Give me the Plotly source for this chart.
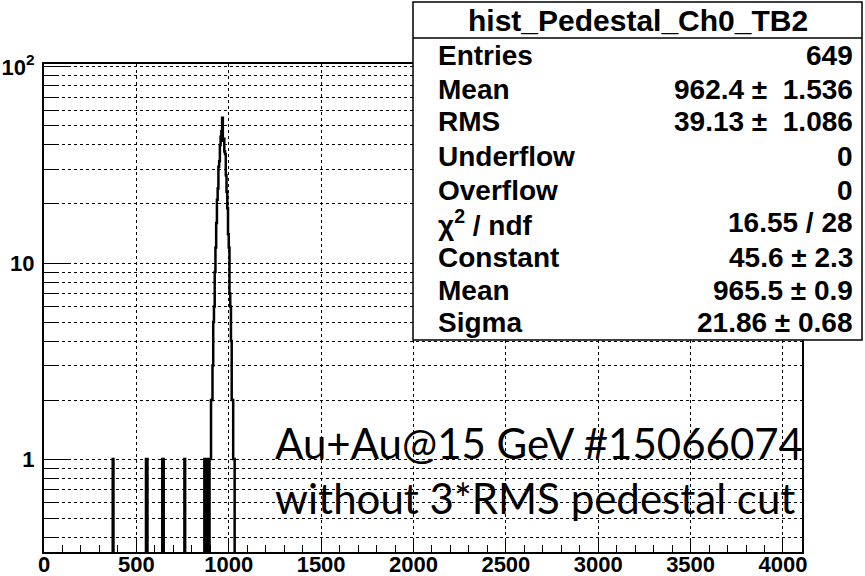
import numpy as np
import plotly.graph_objects as go

# ---------------- data ----------------
BIN_WIDTH = 4
N_BINS = 1024
hist_title = "hist_Pedestal_Ch0_TB2"

# lower edges of the non-empty bins and their contents
bin_lows = [372, 552, 556, 640, 644, 760,
            868, 876, 884, 888, 896,
            900, 904, 908, 912, 916, 920, 924, 928, 932, 936, 940, 944, 948, 952, 956, 960,
            964,
            968, 972, 976, 980, 984, 988, 992, 996, 1000, 1004, 1008, 1012, 1016, 1020, 1024, 1028]
bin_counts = [1, 1, 1, 1, 1, 1,
              1, 1, 1, 1, 1,
              1, 2, 2, 3, 5, 6, 9, 12, 16, 21, 24, 31, 33, 40, 44, 47,
              55,
              42, 43, 37, 36, 28, 23, 19, 14, 12, 7, 6, 4, 2, 2, 1, 1]

stat_labels = ["Entries", "Mean", "RMS", "Underflow", "Overflow",
               "χ<sup>2</sup> / ndf", "Constant", "Mean", "Sigma"]
stat_values = ["649", "962.4 ±  1.536", "39.13 ±  1.086", "0", "0",
               "16.55 / 28", "45.6 ± 2.3", "965.5 ± 0.9", "21.86 ± 0.68"]

note_lines = ["Au+Au@15 GeV #15066074", "without 3*RMS pedestal cut"]

x_ticks = [0, 500, 1000, 1500, 2000, 2500, 3000, 3500, 4000]
y_ticks = [1, 10, 100]
y_ticktext = ["1", "10", "10<sup>2</sup>"]
y_minor = [0.4, 0.5, 0.6, 0.7, 0.8, 0.9, 2, 3, 4, 5, 6, 7, 8, 9,
           20, 30, 40, 50, 60, 70, 80, 90]

# ---------------- histogram arrays ----------------
counts = np.zeros(N_BINS)
for lo, c in zip(bin_lows, bin_counts):
    counts[lo // BIN_WIDTH] = c
edges = np.arange(N_BINS + 1) * BIN_WIDTH
disp = np.where(counts > 0, counts, 1e-3)   # empty bins drop below the axis
xs = list(edges[:-1]) + [edges[-1]]
ys = list(disp) + [disp[-1]]

# ---------------- layout geometry ----------------
W, H = 865, 576
L, R, T, B = 44, 802, 64, 552


def px(x):
    return (x - L) / (R - L)


def py(y):
    return (B - y) / (B - T)


fig = go.Figure()
fig.add_trace(go.Scatter(x=xs, y=ys, mode="lines", line_shape="hv",
                         line=dict(color="black", width=2.5), showlegend=False,
                         hoverinfo="skip"))

tickfont = dict(family="Liberation Sans", size=22, color="black", weight=700)

fig.update_layout(
    width=W, height=H,
    margin=dict(l=L, r=W - R, t=T, b=H - B, autoexpand=False),
    paper_bgcolor="white", plot_bgcolor="white",
    showlegend=False,
    xaxis=dict(range=[0, 4103], tickmode="array", tickvals=x_ticks,
               ticks="inside", ticklen=14, tickwidth=1, tickcolor="black",
               showline=True, linecolor="black", linewidth=2, mirror=True,
               showgrid=True, gridcolor="black", gridwidth=1, griddash="dot",
               zeroline=False, tickfont=tickfont, automargin=False,
               ticklabelstandoff=-8,
               minor=dict(dtick=100, tick0=0, ticks="inside", ticklen=7,
                          tickcolor="black", tickwidth=1, showgrid=False)),
    yaxis=dict(type="log", range=[np.log10(0.336), np.log10(103.5)],
               tickmode="array", tickvals=y_ticks, ticktext=y_ticktext,
               ticks="inside", ticklen=24, tickwidth=1, tickcolor="black",
               showline=True, linecolor="black", linewidth=2, mirror=True,
               showgrid=True, gridcolor="black", gridwidth=1, griddash="dot",
               zeroline=False, tickfont=tickfont, automargin=False,
               ticklabelstandoff=3,
               minor=dict(tickmode="array", tickvals=y_minor, ticks="inside",
                          ticklen=12, tickcolor="black", tickwidth=1,
                          showgrid=True, gridcolor="black", gridwidth=1,
                          griddash="dot")),
)

# ---------------- stats box ----------------
box_l, box_r, box_t, box_b, sep_y = 413, 862, 2, 340, 38
fig.add_shape(type="rect", xref="paper", yref="paper",
              x0=px(box_l), x1=px(box_r), y0=py(box_b), y1=py(box_t),
              line=dict(color="black", width=1.5), fillcolor="white", layer="above")
fig.add_shape(type="line", xref="paper", yref="paper",
              x0=px(box_l), x1=px(box_r), y0=py(sep_y), y1=py(sep_y),
              line=dict(color="black", width=1.5), layer="above")

statfont = dict(family="Liberation Sans", size=28, color="black", weight=700)
titlefont = dict(family="Liberation Sans", size=30, color="black", weight=700)
fig.add_annotation(x=px((box_l + box_r) / 2), y=py(20), xref="paper", yref="paper",
                   text=hist_title, showarrow=False, xanchor="center", yanchor="middle",
                   font=titlefont)
row_y = [55, 89, 122, 156, 190, 223, 257, 290, 322]
for lab, val, yy in zip(stat_labels, stat_values, row_y):
    fig.add_annotation(x=px(436), y=py(yy), xref="paper", yref="paper", text=lab,
                       showarrow=False, xanchor="left", yanchor="middle", font=statfont)
    fig.add_annotation(x=px(855), y=py(yy), xref="paper", yref="paper", text=val,
                       showarrow=False, xanchor="right", yanchor="middle", font=statfont)

# ---------------- run note ----------------
notefont = dict(family="Lato", size=42, color="black")
for txt, yy in zip(note_lines, [443, 498]):
    fig.add_annotation(x=px(273), y=py(yy), xref="paper", yref="paper", text=txt,
                       showarrow=False, xanchor="left", yanchor="middle", font=notefont)

fig.write_html("out.html", config={"displayModeBar": False},
               post_script="document.body.style.margin='0';")
